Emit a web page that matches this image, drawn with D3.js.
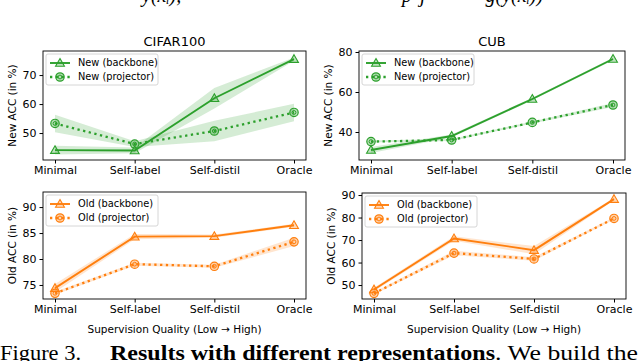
<!DOCTYPE html>
<html>
<head>
<meta charset="utf-8">
<script src="https://cdn.jsdelivr.net/npm/d3@7"></script>
<style>
  body { margin: 0; background: white; }
  svg { display: block; }
  text { font-family: "DejaVu Sans", sans-serif; fill: #000; }
</style>
</head>
<body>
<div id="chart"></div>
<script>
// categories on the x axis
const categories = ["Minimal", "Self-label", "Self-distil", "Oracle"]

// CIFAR100 new / old accuracy (mean and spread of the shaded band)
const cifarNewBackbone = [44.1, 44.0, 62.0, 75.5]
const cifarNewBackboneErr = [1.5, 1.0, 3.5, 0.6]
const cifarNewProjector = [53.3, 46.2, 50.7, 57.1]
const cifarNewProjectorErr = [3.0, 1.0, 3.5, 3.0]
const cifarOldBackbone = [74.4, 84.3, 84.4, 86.5]
const cifarOldBackboneErr = [0.8, 0.5, 0.3, 0.3]
const cifarOldProjector = [73.4, 79.0, 78.6, 83.3]
const cifarOldProjectorErr = [0.3, 0.3, 0.3, 0.8]

// CUB new / old accuracy
const cubNewBackbone = [31.0, 38.0, 56.5, 76.5]
const cubNewBackboneErr = [1.5, 0.8, 0.6, 0.6]
const cubNewProjector = [35.2, 36.0, 44.8, 53.5]
const cubNewProjectorErr = [0.5, 0.5, 0.5, 1.0]
const cubOldBackbone = [48.0, 70.7, 65.5, 88.2]
const cubOldBackboneErr = [0.8, 1.0, 1.8, 0.5]
const cubOldProjector = [46.3, 64.2, 61.6, 79.6]
const cubOldProjectorErr = [0.5, 1.0, 0.8, 0.5]

// y tick labels for each panel
const ticksTL = [50, 60, 70]
const ticksTR = [40, 60, 80]
const ticksBL = [75, 80, 85, 90]
const ticksBR = [50, 60, 70, 80, 90]

const green = "#2ca02c", orange = "#ff7f0e"

const svg = d3.select("#chart")
    .append("svg")
    .attr("width", 640)
    .attr("height", 361)

function panel(opt) {
    const g = svg.append("g")
    const x = d3.scalePoint()
        .domain(categories)
        .range([opt.left + 12, opt.right - 12])
    const y = d3.scaleLinear()
        .domain(opt.ydom)
        .range([opt.bottom, opt.top])

    // shaded bands
    const area = d3.area()
        .x((d, i) => x(categories[i]))
        .y0(d => y(d[0] - d[1]))
        .y1(d => y(d[0] + d[1]))
    opt.series.forEach(s => {
        g.append("path")
            .datum(d3.zip(s.values, s.err))
            .attr("d", area)
            .attr("fill", opt.color)
            .attr("opacity", 0.2)
    })

    // lines
    const line = d3.line()
        .x((d, i) => x(categories[i]))
        .y(d => y(d))
    opt.series.forEach(s => {
        g.append("path")
            .datum(s.values)
            .attr("d", line)
            .attr("fill", "none")
            .attr("stroke", opt.color)
            .attr("stroke-width", s.dotted ? 2.3 : 1.9)
            .attr("stroke-dasharray", s.dotted ? "2.3,3.5" : null)
    })

    // markers
    opt.series.forEach(s => {
        s.values.forEach((v, i) => {
            drawMarker(g, x(categories[i]), y(v), s.dotted, opt.color)
        })
    })

    // frame
    g.append("rect")
        .attr("x", opt.left).attr("y", opt.top)
        .attr("width", opt.right - opt.left)
        .attr("height", opt.bottom - opt.top)
        .attr("fill", "none")
        .attr("stroke", "#000")
        .attr("stroke-width", 0.9)

    // axes
    const xa = g.append("g")
        .attr("transform", `translate(0, ${opt.bottom})`)
        .call(d3.axisBottom(x).tickSize(3.5).tickPadding(3))
    xa.select(".domain").remove()
    xa.selectAll("text").style("font-size", "11px").style("font-family", "DejaVu Sans")
    const ya = g.append("g")
        .attr("transform", `translate(${opt.left}, 0)`)
        .call(d3.axisLeft(y).tickValues(opt.ticks).tickSize(3.5).tickPadding(3))
    ya.select(".domain").remove()
    ya.selectAll("text").style("font-size", "11px").style("font-family", "DejaVu Sans")

    g.append("text")
        .attr("transform", `translate(${opt.left - 31}, ${(opt.top + opt.bottom) / 2}) rotate(-90)`)
        .attr("text-anchor", "middle")
        .attr("dy", "0.35em")
        .style("font-size", "10.5px")
        .text(opt.ylabel)

    if (opt.title) {
        g.append("text")
            .attr("x", (opt.left + opt.right) / 2)
            .attr("y", opt.top - 5)
            .attr("text-anchor", "middle")
            .style("font-size", "13px")
            .text(opt.title)
    }
    if (opt.xlabel) {
        g.append("text")
            .attr("x", (opt.left + opt.right) / 2)
            .attr("y", opt.bottom + 34)
            .attr("text-anchor", "middle")
            .style("font-size", "10.5px")
            .text(opt.xlabel)
    }

    // legend
    const lx = opt.left + 3, ly = opt.top + 3
    g.append("rect")
        .attr("x", lx).attr("y", ly)
        .attr("width", 112).attr("height", 31)
        .attr("rx", 2)
        .attr("fill", "white").attr("fill-opacity", 0.8)
        .attr("stroke", "#ccc").attr("stroke-width", 0.8)
    opt.series.forEach((s, i) => {
        const yy = ly + 9 + i * 14
        g.append("line")
            .attr("x1", lx + 4).attr("x2", lx + 24)
            .attr("y1", yy).attr("y2", yy)
            .attr("stroke", opt.color)
            .attr("stroke-width", s.dotted ? 2.3 : 1.9)
            .attr("stroke-dasharray", s.dotted ? "2.3,3.5" : null)
        drawMarker(g, lx + 14, yy, s.dotted, opt.color)
        g.append("text")
            .attr("x", lx + 32).attr("y", yy)
            .attr("dy", "0.35em")
            .style("font-size", "9.8px")
            .text(s.label)
    })
}

function drawMarker(g, cx, cy, round, color) {
    if (round) {
        g.append("circle")
            .attr("cx", cx).attr("cy", cy).attr("r", 4.2)
            .attr("fill", color).attr("fill-opacity", 0.35)
            .attr("stroke", color).attr("stroke-width", 1.2)
        g.append("circle")
            .attr("cx", cx).attr("cy", cy).attr("r", 1.9)
            .attr("fill", "none")
            .attr("stroke", color).attr("stroke-width", 1)
    } else {
        g.append("path")
            .attr("d", d3.symbol().type(d3.symbolTriangle).size(34)())
            .attr("transform", `translate(${cx}, ${cy + 0.7})`)
            .attr("fill", color).attr("fill-opacity", 0.3)
            .attr("stroke", color).attr("stroke-width", 1.1)
    }
}

panel({
    left: 43, right: 306, top: 51, bottom: 160, ydom: [40.7, 78.3], ticks: ticksTL,
    color: green, title: "CIFAR100", ylabel: "New ACC (in %)",
    series: [
        {label: "New (backbone)", values: cifarNewBackbone, err: cifarNewBackboneErr},
        {label: "New (projector)", values: cifarNewProjector, err: cifarNewProjectorErr, dotted: true}
    ]
})
panel({
    left: 359, right: 625, top: 51, bottom: 160, ydom: [26, 80.5], ticks: ticksTR,
    color: green, title: "CUB", ylabel: "New ACC (in %)",
    series: [
        {label: "New (backbone)", values: cubNewBackbone, err: cubNewBackboneErr},
        {label: "New (projector)", values: cubNewProjector, err: cubNewProjectorErr, dotted: true}
    ]
})
panel({
    left: 43, right: 306, top: 192, bottom: 299, ydom: [72.3, 92.9], ticks: ticksBL,
    color: orange, ylabel: "Old ACC (in %)", xlabel: "Supervision Quality (Low \u2192 High)",
    series: [
        {label: "Old (backbone)", values: cifarOldBackbone, err: cifarOldBackboneErr},
        {label: "Old (projector)", values: cifarOldProjector, err: cifarOldProjectorErr, dotted: true}
    ]
})
panel({
    left: 362, right: 626, top: 193, bottom: 299, ydom: [43.8, 90.9], ticks: ticksBR,
    color: orange, ylabel: "Old ACC (in %)", xlabel: "Supervision Quality (Low \u2192 High)",
    series: [
        {label: "Old (backbone)", values: cubOldBackbone, err: cubOldBackboneErr},
        {label: "Old (projector)", values: cubOldProjector, err: cubOldProjectorErr, dotted: true}
    ]
})

// fragments of the page text above the figure (cut by the top edge in the reference)
svg.append("text")
    .attr("x", 142).attr("y", 2)
    .style("font-family", "Liberation Serif").style("font-style", "italic").style("font-size", "20px")
    .text("y(x\u1D62),")
svg.append("text")
    .attr("x", 402).attr("y", 2)
    .style("font-family", "Liberation Serif").style("font-style", "italic").style("font-size", "20px")
    .text("p\u2009\u2009j\u00A0\u00A0\u00A0\u00A0\u00A0\u00A0\u00A0\u00A0\u00A0\u00A0\u00A0\u00A0g(y(x\u1D62))")

// caption
function capText(x, len, str, bold) {
    svg.append("text")
        .attr("x", x).attr("y", 360)
        .attr("textLength", len)
        .attr("lengthAdjust", "spacingAndGlyphs")
        .style("font-family", "Liberation Serif")
        .style("font-size", "21px")
        .style("font-weight", bold ? "bold" : "normal")
        .text(str)
}
capText(0, 81, "Figure 3.", false)
capText(110, 385, "Results with different representations", true)
capText(495, 143, ". We build the", false)
</script>
</body>
</html>
